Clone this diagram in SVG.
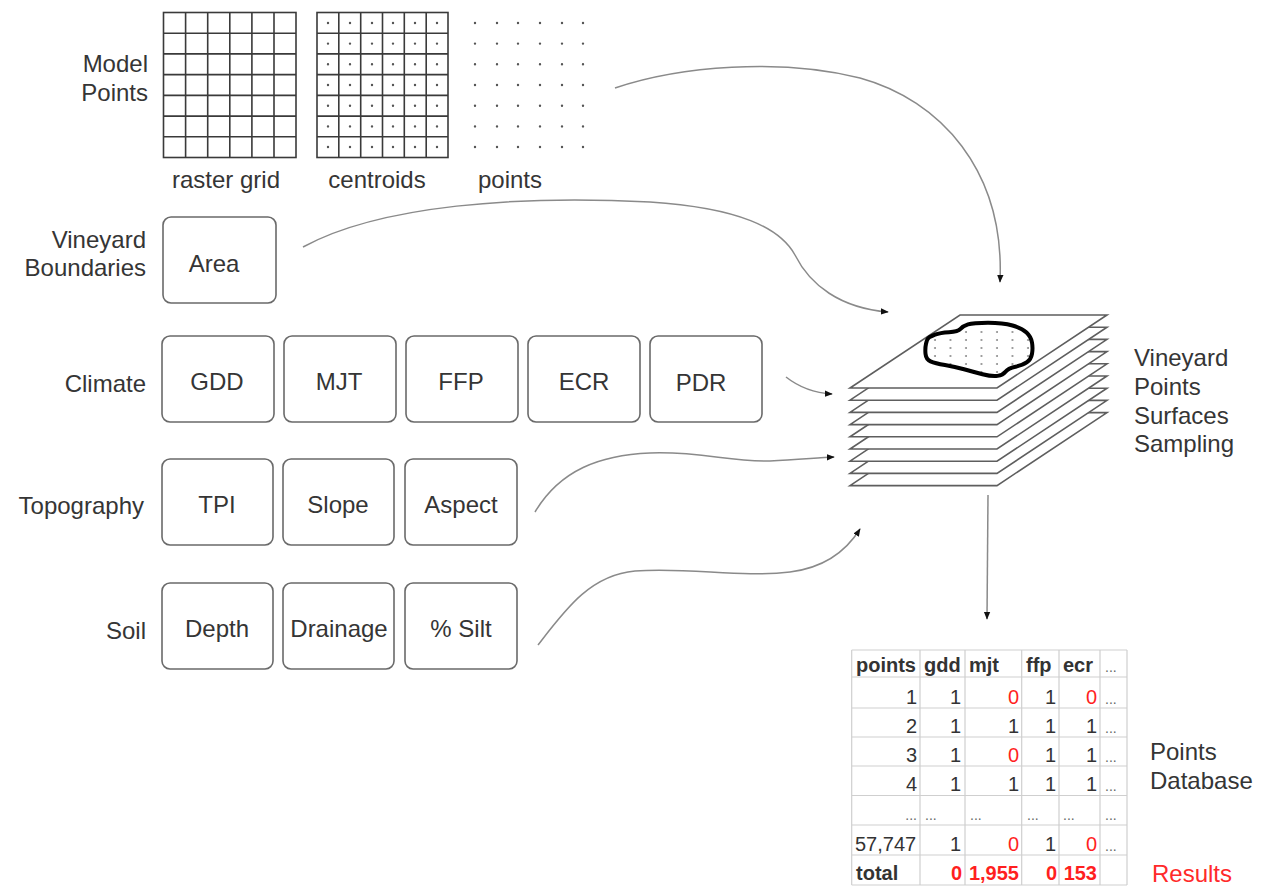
<svg xmlns="http://www.w3.org/2000/svg" width="1265" height="886" viewBox="0 0 1265 886">
  <style>
    .lbl { font-family: "Liberation Sans", Arial, sans-serif; font-size: 24px; fill: #353535; }
    .end { text-anchor: end; }
    .mid { text-anchor: middle; }
    .box { fill: #fff; stroke: #6a6a6a; stroke-width: 1.6; }
    .gridline { fill: none; stroke: #3a3a3a; stroke-width: 1.6; }
    .dots { fill: none; stroke: #555; stroke-width: 2.4; stroke-linecap: round; }
    .conn { fill: none; stroke: #8a8a8a; stroke-width: 1.5; }
    .sheet { fill: #fff; stroke: #5e5e5e; stroke-width: 1.6; stroke-linejoin: miter; }
    .tbl { fill: none; stroke: #cfcfcf; stroke-width: 1.2; }
    .tt { font-family: "Liberation Sans", Arial, sans-serif; font-size: 20px; fill: #333; }
    .hd { font-weight: bold; }
    .red { fill: #ff1f1f; }
    .r { text-anchor: end; }
    .el { font-family: "Liberation Sans", Arial, sans-serif; font-size: 14px; fill: #666; }
  </style>
  <defs>
    <marker id="ah" viewBox="0 0 10 10" refX="9" refY="5" markerWidth="8" markerHeight="8" markerUnits="userSpaceOnUse" orient="auto">
      <path d="M0,1 L10,5 L0,9 z" fill="#111"/>
    </marker>
    <polygon id="sheet" class="sheet" points="960,315 1107,315 997,388 850,388"/>
    <pattern id="ptfill" patternUnits="userSpaceOnUse" x="932" y="329" width="15.5" height="8">
      <circle cx="3" cy="3" r="0.9" fill="#777"/>
    </pattern>
  </defs>

  <rect width="1265" height="886" fill="#fff"/>

  <!-- Model points: raster grid, centroids and points -->
  <g id="model-points">
    <text class="lbl end" x="148" y="72">Model</text>
    <text class="lbl end" x="148" y="101">Points</text>

    <g id="raster-grid">
      <rect class="gridline" x="163.5" y="12.5" width="132.5" height="145"/>
      <path class="gridline" d="M185.6,12.5V157.5M207.7,12.5V157.5M229.8,12.5V157.5M251.9,12.5V157.5M274,12.5V157.5
        M163.5,33.2H296M163.5,53.9H296M163.5,74.6H296M163.5,95.4H296M163.5,116.1H296M163.5,136.8H296"/>
      <text class="lbl mid" x="226" y="188">raster grid</text>
    </g>

    <g id="centroids">
      <rect class="gridline" x="317" y="12.5" width="131" height="145"/>
      <path class="gridline" d="M338.8,12.5V157.5M360.7,12.5V157.5M382.5,12.5V157.5M404.3,12.5V157.5M426.2,12.5V157.5
        M317,33.2H448M317,53.9H448M317,74.6H448M317,95.4H448M317,116.1H448M317,136.8H448"/>
      <path class="dots" d="M328,23h0M350,23h0M372,23h0M393,23h0M415,23h0M437,23h0
        M328,43.6h0M350,43.6h0M372,43.6h0M393,43.6h0M415,43.6h0M437,43.6h0
        M328,64.3h0M350,64.3h0M372,64.3h0M393,64.3h0M415,64.3h0M437,64.3h0
        M328,85h0M350,85h0M372,85h0M393,85h0M415,85h0M437,85h0
        M328,105.7h0M350,105.7h0M372,105.7h0M393,105.7h0M415,105.7h0M437,105.7h0
        M328,126.4h0M350,126.4h0M372,126.4h0M393,126.4h0M415,126.4h0M437,126.4h0
        M328,147h0M350,147h0M372,147h0M393,147h0M415,147h0M437,147h0"/>
      <text class="lbl mid" x="377" y="188">centroids</text>
    </g>

    <g id="points">
      <path class="dots" d="M475,23h0M497,23h0M518,23h0M540,23h0M562,23h0M583,23h0
        M475,43.6h0M497,43.6h0M518,43.6h0M540,43.6h0M562,43.6h0M583,43.6h0
        M475,64.3h0M497,64.3h0M518,64.3h0M540,64.3h0M562,64.3h0M583,64.3h0
        M475,85h0M497,85h0M518,85h0M540,85h0M562,85h0M583,85h0
        M475,105.7h0M497,105.7h0M518,105.7h0M540,105.7h0M562,105.7h0M583,105.7h0
        M475,126.4h0M497,126.4h0M518,126.4h0M540,126.4h0M562,126.4h0M583,126.4h0
        M475,147h0M497,147h0M518,147h0M540,147h0M562,147h0M583,147h0"/>
      <text class="lbl mid" x="510" y="188">points</text>
    </g>
  </g>

  <!-- Vineyard boundaries -->
  <g id="vineyard-boundaries">
    <text class="lbl end" x="146" y="248">Vineyard</text>
    <text class="lbl end" x="146" y="276">Boundaries</text>
    <rect class="box" x="163" y="217" width="113" height="86" rx="8"/>
    <text class="lbl mid" x="214" y="272">Area</text>
  </g>

  <!-- Climate layers -->
  <g id="climate">
    <text class="lbl end" x="146" y="392">Climate</text>
    <g id="gdd"><rect class="box" x="162" y="336" width="112" height="86" rx="8"/><text class="lbl mid" x="217" y="390">GDD</text></g>
    <g id="mjt"><rect class="box" x="284" y="336" width="112" height="86" rx="8"/><text class="lbl mid" x="339" y="390">MJT</text></g>
    <g id="ffp"><rect class="box" x="406" y="336" width="112" height="86" rx="8"/><text class="lbl mid" x="461" y="390">FFP</text></g>
    <g id="ecr"><rect class="box" x="528" y="336" width="112" height="86" rx="8"/><text class="lbl mid" x="584" y="390">ECR</text></g>
    <g id="pdr"><rect class="box" x="650" y="336" width="112" height="86" rx="8"/><text class="lbl mid" x="701" y="391">PDR</text></g>
  </g>

  <!-- Topography layers -->
  <g id="topography">
    <text class="lbl end" x="144" y="514">Topography</text>
    <g id="tpi"><rect class="box" x="162" y="459" width="111" height="86" rx="8"/><text class="lbl mid" x="217" y="513">TPI</text></g>
    <g id="slope"><rect class="box" x="283" y="459" width="111" height="86" rx="8"/><text class="lbl mid" x="338" y="513">Slope</text></g>
    <g id="aspect"><rect class="box" x="405" y="459" width="112" height="86" rx="8"/><text class="lbl mid" x="461" y="513">Aspect</text></g>
  </g>

  <!-- Soil layers -->
  <g id="soil">
    <text class="lbl end" x="146" y="639">Soil</text>
    <g id="depth"><rect class="box" x="162" y="583" width="111" height="86" rx="8"/><text class="lbl mid" x="217" y="637">Depth</text></g>
    <g id="drainage"><rect class="box" x="283" y="583" width="111" height="86" rx="8"/><text class="lbl mid" x="339" y="637">Drainage</text></g>
    <g id="silt"><rect class="box" x="405" y="583" width="112" height="86" rx="8"/><text class="lbl mid" x="461" y="637">% Silt</text></g>
  </g>

  <!-- Stacked surfaces with the vineyard outline sampled on top -->
  <g id="surfaces">
    <use href="#sheet" transform="translate(0,97.6)"/>
    <use href="#sheet" transform="translate(0,85.4)"/>
    <use href="#sheet" transform="translate(0,73.2)"/>
    <use href="#sheet" transform="translate(0,61)"/>
    <use href="#sheet" transform="translate(0,48.8)"/>
    <use href="#sheet" transform="translate(0,36.6)"/>
    <use href="#sheet" transform="translate(0,24.4)"/>
    <use href="#sheet" transform="translate(0,12.2)"/>
    <use href="#sheet"/>
    <path fill="url(#ptfill)" stroke="#000" stroke-width="4" stroke-linejoin="round"
      d="M928.5,338 Q930,336.7 935,334.7 Q940,332.7 949,332.2 Q958,331.7 960.5,328.9 Q963,326 968,324.4 Q973,322.7 988,322.7 Q1003,322.7 1012.5,325.5 Q1022,328.3 1026.5,332.5 Q1031,336.7 1032,342.5 Q1033,348.3 1032,353.8 Q1031,359.3 1027,362.2 Q1023,365 1015.5,366.7 Q1008,368.3 1005.5,371.7 Q1003,375 997.5,375.9 Q992,376.7 982.5,374.2 Q973,371.7 964,369.2 Q955,366.7 945,365 Q935,363.3 930.5,361.3 Q926,359.3 925.5,353.8 Q925,348.3 926,343.8 Q927,339.3 928.5,338 Z"/>
    <text class="lbl" x="1134" y="366">Vineyard</text>
    <text class="lbl" x="1134" y="395">Points</text>
    <text class="lbl" x="1134" y="424">Surfaces</text>
    <text class="lbl" x="1134" y="452">Sampling</text>
  </g>

  <!-- Points database table -->
  <g id="points-database">
    <path class="tbl" d="M851.7,650V885M920,650V885M965,650V885M1021.7,650V885M1059,650V885M1100,650V885M1127,650V885
      M851.7,650H1127M851.7,677H1127M851.7,708H1127M851.7,737H1127M851.7,766H1127M851.7,795.5H1127M851.7,825H1127M851.7,855H1127M851.7,885H1127"/>

    <text class="tt hd" x="856" y="672">points</text>
    <text class="tt hd" x="924" y="672">gdd</text>
    <text class="tt hd" x="969" y="672">mjt</text>
    <text class="tt hd" x="1026" y="672">ffp</text>
    <text class="tt hd" x="1063" y="672">ecr</text>
    <text class="el" x="1105" y="672">...</text>

    <text class="tt r" x="917" y="704">1</text><text class="tt r" x="961" y="704">1</text><text class="tt r red" x="1019" y="704">0</text><text class="tt r" x="1056" y="704">1</text><text class="tt r red" x="1097" y="704">0</text><text class="el" x="1105" y="704">...</text>
    <text class="tt r" x="917" y="733">2</text><text class="tt r" x="961" y="733">1</text><text class="tt r" x="1019" y="733">1</text><text class="tt r" x="1056" y="733">1</text><text class="tt r" x="1097" y="733">1</text><text class="el" x="1105" y="733">...</text>
    <text class="tt r" x="917" y="762">3</text><text class="tt r" x="961" y="762">1</text><text class="tt r red" x="1019" y="762">0</text><text class="tt r" x="1056" y="762">1</text><text class="tt r" x="1097" y="762">1</text><text class="el" x="1105" y="762">...</text>
    <text class="tt r" x="917" y="791">4</text><text class="tt r" x="961" y="791">1</text><text class="tt r" x="1019" y="791">1</text><text class="tt r" x="1056" y="791">1</text><text class="tt r" x="1097" y="791">1</text><text class="el" x="1105" y="791">...</text>
    <text class="el r" x="917" y="820">...</text><text class="el" x="925" y="820">...</text><text class="el" x="970" y="820">...</text><text class="el" x="1027" y="820">...</text><text class="el" x="1063" y="820">...</text><text class="el" x="1105" y="820">...</text>
    <text class="tt" x="855" y="851">57,747</text><text class="tt r" x="961" y="851">1</text><text class="tt r red" x="1019" y="851">0</text><text class="tt r" x="1056" y="851">1</text><text class="tt r red" x="1097" y="851">0</text><text class="el" x="1105" y="851">...</text>
    <text class="tt hd" x="856" y="880">total</text><text class="tt hd r red" x="962" y="880">0</text><text class="tt hd r red" x="1019" y="880">1,955</text><text class="tt hd r red" x="1057" y="880">0</text><text class="tt hd r red" x="1097" y="880">153</text>

    <text class="lbl" x="1150" y="760">Points</text>
    <text class="lbl" x="1150" y="789">Database</text>
    <text class="lbl red" x="1152" y="882" style="fill:#ff2a2a">Results</text>
  </g>

  <!-- Connectors -->
  <g id="connectors">
    <path class="conn" marker-end="url(#ah)" d="M615,88 C680,66 780,58 860,78 C940,100 1005,170 1000,282"/>
    <path class="conn" marker-end="url(#ah)" d="M303,247 C380,205 520,195 650,202 C740,208 780,228 795,255 C810,285 840,308 888,312"/>
    <path class="conn" marker-end="url(#ah)" d="M786,377 C800,388 815,393 832,394"/>
    <path class="conn" marker-end="url(#ah)" d="M535,512 C560,470 600,455 650,453 C700,451 730,462 770,461 C795,460 815,458 834,457"/>
    <path class="conn" marker-end="url(#ah)" d="M538,645 C565,610 590,575 635,571 C690,567 740,578 790,572 C830,567 850,545 860,529"/>
    <path class="conn" marker-end="url(#ah)" d="M988,495 L987,619"/>
  </g>
</svg>
